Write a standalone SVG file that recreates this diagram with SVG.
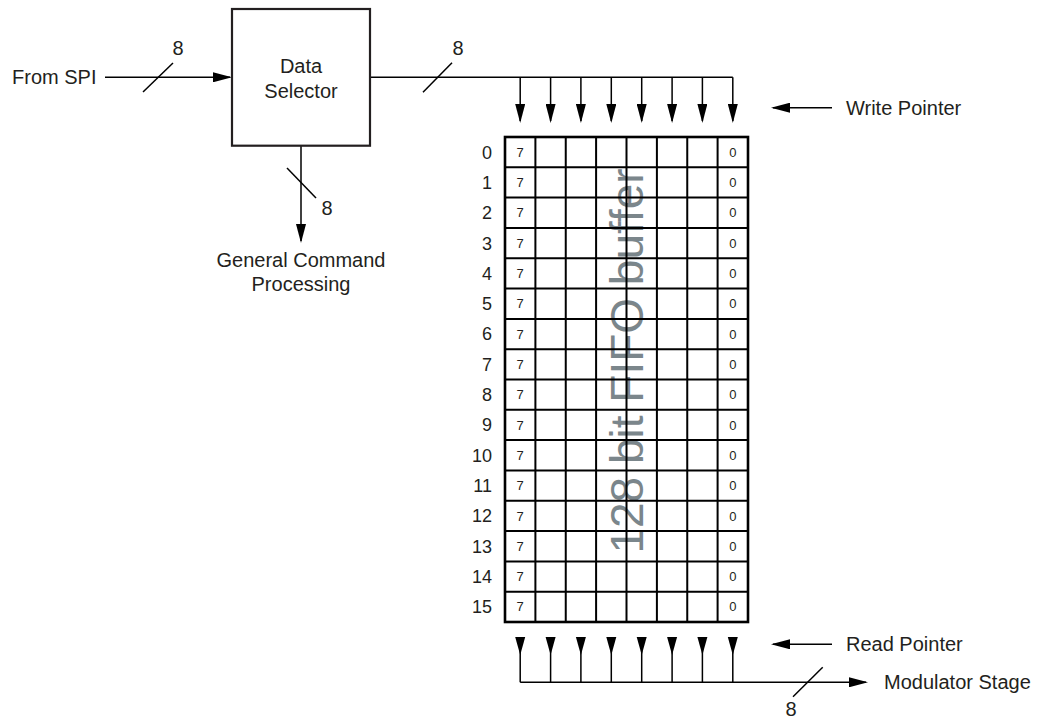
<svg xmlns="http://www.w3.org/2000/svg" xmlns:xlink="http://www.w3.org/1999/xlink" width="1048" height="719" viewBox="0 0 1048 719">
<style>
text{font-family:"Liberation Sans",Arial,sans-serif;fill:#231f20}
.lbl{font-size:20px}
.row{font-size:18px;text-anchor:end}
.cell{font-size:13px;text-anchor:middle}
.wire{stroke:#000;stroke-width:1.5;fill:none}
.grid{stroke:#000;stroke-width:2;fill:none}
.fifo{font-size:46px;fill:#7b868b;text-anchor:middle}
</style>
<defs>
<marker id="ah" markerUnits="userSpaceOnUse" viewBox="0 0 19 10" refX="17" refY="5" markerWidth="19" markerHeight="10" orient="auto">
<path d="M0,0 L19,5 L0,10 Z" fill="#000"/>
</marker>
<path id="tri" d="M-5,0 L5,0 L0,18 Z" fill="#000"/>
</defs>
<rect width="1048" height="719" fill="#fff"/>

<g id="connectors">
<!-- From SPI -->
<line class="wire" x1="105" y1="77.3" x2="230" y2="77.3" marker-end="url(#ah)"/>
<line class="wire" x1="143" y1="92" x2="173" y2="63"/>
<!-- down to general command -->
<line class="wire" x1="301" y1="146" x2="301" y2="241" marker-end="url(#ah)"/>
<line class="wire" x1="287" y1="168" x2="316" y2="198"/>
<!-- top bus -->
<path class="wire" d="M370,77.3 H732.8"/>
<line class="wire" x1="423" y1="92.3" x2="452" y2="62.7"/>
<g class="wire" marker-end="url(#ah)">
<line x1="520.2" y1="77.3" x2="520.2" y2="121"/>
<line x1="550.6" y1="77.3" x2="550.6" y2="121"/>
<line x1="580.9" y1="77.3" x2="580.9" y2="121"/>
<line x1="611.3" y1="77.3" x2="611.3" y2="121"/>
<line x1="641.7" y1="77.3" x2="641.7" y2="121"/>
<line x1="672.1" y1="77.3" x2="672.1" y2="121"/>
<line x1="702.4" y1="77.3" x2="702.4" y2="121"/>
<line x1="732.8" y1="77.3" x2="732.8" y2="121"/>
</g>
<!-- write pointer -->
<line class="wire" x1="832" y1="107.7" x2="773" y2="107.7" marker-end="url(#ah)"/>
<!-- read pointer -->
<line class="wire" x1="832" y1="644.3" x2="773" y2="644.3" marker-end="url(#ah)"/>
<!-- bottom bus -->
<path class="wire" d="M520.2,637 V682.3 M550.6,637 V682.3 M580.9,637 V682.3 M611.3,637 V682.3 M641.7,637 V682.3 M672.1,637 V682.3 M702.4,637 V682.3 M732.8,637 V682.3"/>
<use xlink:href="#tri" x="520.2" y="637"/>
<use xlink:href="#tri" x="550.6" y="637"/>
<use xlink:href="#tri" x="580.9" y="637"/>
<use xlink:href="#tri" x="611.3" y="637"/>
<use xlink:href="#tri" x="641.7" y="637"/>
<use xlink:href="#tri" x="672.1" y="637"/>
<use xlink:href="#tri" x="702.4" y="637"/>
<use xlink:href="#tri" x="732.8" y="637"/>
<line class="wire" x1="520.2" y1="682.3" x2="866" y2="682.3" marker-end="url(#ah)"/>
<line class="wire" x1="793" y1="696.7" x2="822.7" y2="667.3"/>
</g>

<g id="bus-labels">
<text class="lbl" x="178" y="55" text-anchor="middle">8</text>
<text class="lbl" x="327" y="215" text-anchor="middle">8</text>
<text class="lbl" x="458" y="55" text-anchor="middle">8</text>
<text class="lbl" x="791" y="716" text-anchor="middle">8</text>
</g>

<g id="from-spi">
<text class="lbl" x="12" y="84">From SPI</text>
</g>

<g id="data-selector">
<rect x="232" y="9" width="138" height="136.7" fill="#fff" stroke="#231f20" stroke-width="2.2"/>
<text class="lbl" x="301" y="73" text-anchor="middle">Data</text>
<text class="lbl" x="301" y="98" text-anchor="middle">Selector</text>
</g>

<g id="general-command">
<text class="lbl" x="301" y="267" text-anchor="middle">General Command</text>
<text class="lbl" x="301" y="291" text-anchor="middle">Processing</text>
</g>

<g id="write-pointer">
<text class="lbl" x="846" y="115">Write Pointer</text>
</g>
<g id="read-pointer">
<text class="lbl" x="846" y="651">Read Pointer</text>
</g>
<g id="modulator-stage">
<text class="lbl" x="884" y="689">Modulator Stage</text>
</g>

<g id="fifo-buffer">
<text class="fifo" transform="translate(643,361) rotate(-90)">128 bit FIFO buffer</text>
<path class="grid" d="M535.4,137V622M565.75,137V622M596.1,137V622M626.5,137V622M656.9,137V622M687.25,137V622M717.6,137V622
M505,167.3H748M505,197.6H748M505,227.9H748M505,258.25H748M505,288.6H748M505,318.9H748M505,349.2H748M505,379.5H748M505,409.8H748M505,440.1H748M505,470.4H748M505,500.75H748M505,531.1H748M505,561.4H748M505,591.7H748"/>
<rect x="505" y="137" width="243" height="485" fill="none" stroke="#000" stroke-width="2.6"/>
<g class="cell">
<text x="520.2" y="156.8">7</text><text x="732.8" y="156.8">0</text>
<text x="520.2" y="187.1">7</text><text x="732.8" y="187.1">0</text>
<text x="520.2" y="217.4">7</text><text x="732.8" y="217.4">0</text>
<text x="520.2" y="247.7">7</text><text x="732.8" y="247.7">0</text>
<text x="520.2" y="278.0">7</text><text x="732.8" y="278.0">0</text>
<text x="520.2" y="308.3">7</text><text x="732.8" y="308.3">0</text>
<text x="520.2" y="338.6">7</text><text x="732.8" y="338.6">0</text>
<text x="520.2" y="368.9">7</text><text x="732.8" y="368.9">0</text>
<text x="520.2" y="399.3">7</text><text x="732.8" y="399.3">0</text>
<text x="520.2" y="429.6">7</text><text x="732.8" y="429.6">0</text>
<text x="520.2" y="459.9">7</text><text x="732.8" y="459.9">0</text>
<text x="520.2" y="490.2">7</text><text x="732.8" y="490.2">0</text>
<text x="520.2" y="520.5">7</text><text x="732.8" y="520.5">0</text>
<text x="520.2" y="550.8">7</text><text x="732.8" y="550.8">0</text>
<text x="520.2" y="581.1">7</text><text x="732.8" y="581.1">0</text>
<text x="520.2" y="611.4">7</text><text x="732.8" y="611.4">0</text>
</g>
<g class="row">
<text x="492" y="158.6">0</text>
<text x="492" y="188.9">1</text>
<text x="492" y="219.2">2</text>
<text x="492" y="249.5">3</text>
<text x="492" y="279.8">4</text>
<text x="492" y="310.1">5</text>
<text x="492" y="340.4">6</text>
<text x="492" y="370.7">7</text>
<text x="492" y="401.1">8</text>
<text x="492" y="431.4">9</text>
<text x="492" y="461.7">10</text>
<text x="492" y="492.0">11</text>
<text x="492" y="522.3">12</text>
<text x="492" y="552.6">13</text>
<text x="492" y="582.9">14</text>
<text x="492" y="613.2">15</text>
</g>
</g>
</svg>
